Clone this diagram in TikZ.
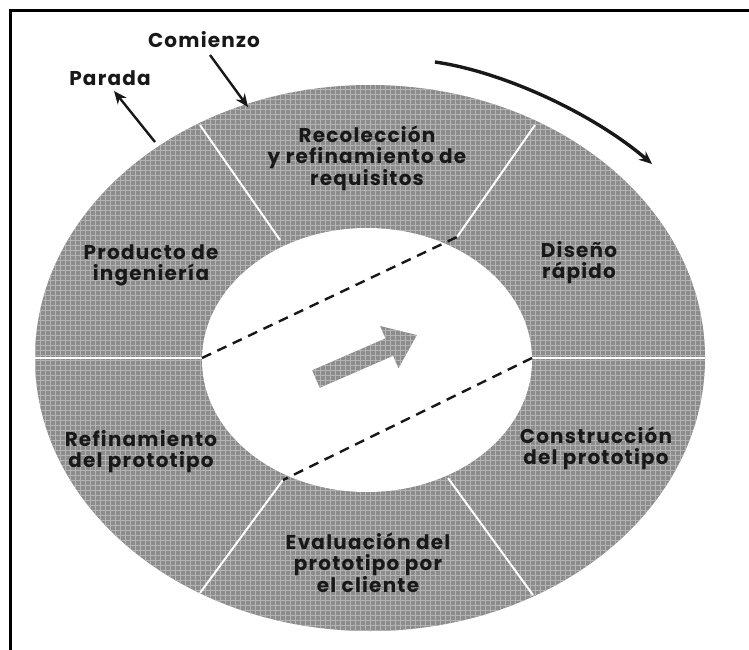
\documentclass[tikz,border=0pt]{standalone}
\usepackage{fontspec}
\setmainfont{Poppins}[LetterSpace=6]
\usetikzlibrary{arrows.meta}
\definecolor{ringgray}{RGB}{140,140,140}
\definecolor{meshgray}{RGB}{180,180,180}
\definecolor{ink}{RGB}{24,24,24}
\begin{document}
\begin{tikzpicture}[x=1pt,y=-1pt,
  lbl/.style={font=\fontsize{20}{21}\selectfont\bfseries, text=ink, align=center, inner sep=0pt},
  sep/.style={draw=white, line width=2},
  dashline/.style={draw=ink, line width=2.4, dash pattern=on 10pt off 7pt},
  ptr/.style={draw=ink, line width=2.4, -{Stealth[length=13pt,width=11pt]}},
  mesh/.style={draw=meshgray, line width=1.0, step=5pt}
]
\useasboundingbox (0,0) rectangle (749,650);
\fill[white] (0,0) rectangle (749,650);
% ring
\fill[ringgray] (370,358) ellipse [x radius=335, y radius=273];
\begin{scope}
  \clip (370,358) ellipse [x radius=335, y radius=273];
  \draw[mesh] (30,636) grid (710,80);
\end{scope}
\fill[white] (367,360) ellipse [x radius=165, y radius=132];
% separator points
\coordinate (iL) at (202,358);
\coordinate (iR) at (532,358);
\coordinate (iUL) at (280,240);
\coordinate (iUR) at (457,237);
\coordinate (iLL) at (283,480);
\coordinate (iLR) at (448,478);
\coordinate (oL) at (35,358);
\coordinate (oR) at (705,358);
\coordinate (oUL) at (200,125);
\coordinate (oUR) at (535,125);
\coordinate (oLL) at (200,593);
\coordinate (oLR) at (533,595);
\draw[sep] (iL) -- (oL);
\draw[sep] (iR) -- (oR);
\draw[sep] (iUL) -- (oUL);
\draw[sep] (iUR) -- (oUR);
\draw[sep] (iLL) -- (oLL);
\draw[sep] (iLR) -- (oLR);
% dashed lines
\draw[dashline] (iL) -- (iUR);
\draw[dashline] (iR) -- (iLL);
% central arrow
\begin{scope}
  \clip (319.8,387.7) -- (312.2,370.3) -- (385.5,338.4) -- (380.1,326.0) -- (416.8,335.1) -- (398.5,368.2) -- (393.1,355.8) -- cycle;
  \fill[ringgray] (300,320) rectangle (420,390);
  \draw[mesh] (300,390) grid (420,320);
\end{scope}
% labels
\node[lbl] (recol) at (367,158) {Recolección\\y refinamiento de\\requisitos};
\node[lbl] (diseno) at (579,263) {Diseño\\rápido};
\node[lbl] (constr) at (596,448) {Construcción\\del prototipo};
\node[lbl] (evalu) at (368,563) {Evaluación del\\prototipo por\\el cliente};
\node[lbl] (refin) at (141,452) {Refinamiento\\del prototipo};
\node[lbl] (produ) at (151,265) {Producto de\\ingeniería};
\node[lbl] (comienzo) at (204,40) {Comienzo};
\node[lbl] (parada) at (110,78) {Parada};
% pointer arrows
\coordinate (cs) at (210,55);
\coordinate (ce) at (248,107);
\coordinate (ps) at (155,142);
\coordinate (pe) at (114,91);
\draw[ptr] (cs) -- (ce);
\draw[ptr] (ps) -- (pe);
% direction arrow
\coordinate (ds) at (435,62);
\coordinate (de) at (652,164);
\draw[ptr, line width=3.4] (ds) .. controls (505,72) and (595,115) .. (de);
% frame
\draw[black, line width=2.8] (10.5,650) -- (10.5,10.5) -- (749,10.5);
\end{tikzpicture}
\end{document}
